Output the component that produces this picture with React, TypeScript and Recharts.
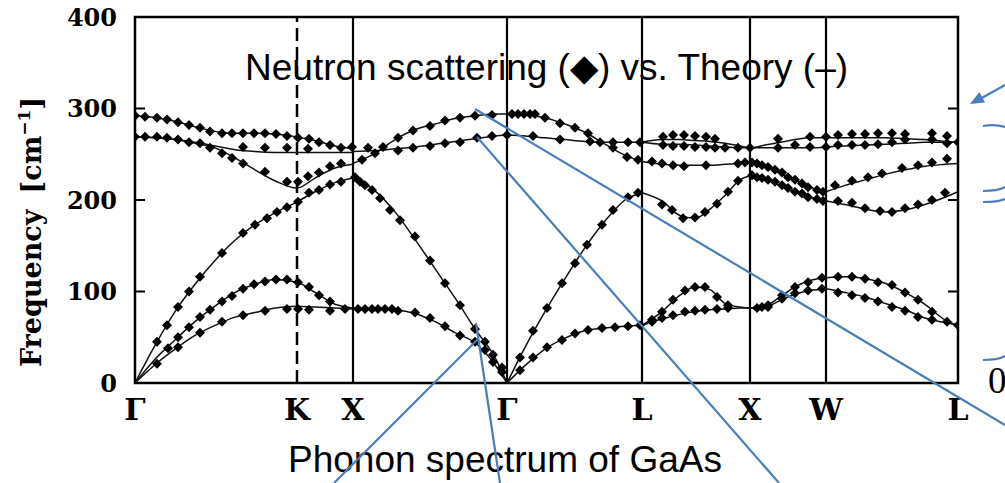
import {
  ComposedChart,
  Line,
  Scatter,
  XAxis,
  YAxis,
  ReferenceLine,
  ReferenceArea,
} from "recharts";

// High-symmetry points along the k path (arb. path units)
const symK = [0, 162, 218, 372, 507, 615, 691, 823];
const symLabels = ["Γ", "K", "X", "Γ", "L", "X", "W", "L"];
const freqTicks = [0, 100, 200, 300, 400];

// ---- theory (solid lines), cm^-1, one k grid per path piece ----
const kGK = [0, 20, 40, 60, 80, 100, 120, 140, 162, 180, 200, 218];
const gkLO = [292, 290, 286, 280, 275, 273, 273, 272, 269, 265, 259, 256];
const gkTO1 = [269, 268, 266, 263, 259, 255, 253, 252, 252, 252, 252, 252];
const gkTO2 = [269, 268, 266, 262, 257, 246, 233, 221, 213, 224, 235, 239];
const gkLA = [0, 41, 78, 108, 134, 156, 173, 186, 198, 209, 219, 224];
const gkTA1 = [0, 26, 47, 67, 84, 99, 108, 113, 110, 99, 86, 82];
const gkTA2 = [0, 20, 37, 52, 63, 72, 77, 82, 84, 83, 82, 81];

const kXG = [218, 240, 260, 280, 300, 320, 340, 360, 372];
const xgLO = [240, 251, 266, 277, 283, 289, 292, 294, 294];
const xgTO = [253, 254, 256, 258, 261, 264, 267, 270, 271];
const xgLA = [224, 210, 187, 157, 125, 93, 59, 28, 0];
const xgTA = [82, 81, 80, 76, 67, 55, 44, 20, 0];

const kGL = [372, 390, 410, 430, 450, 470, 490, 507];
const glLO = [294, 293, 290, 283, 274, 261, 249, 242];
const glTO = [271, 270, 268, 266, 264, 263, 263, 263];
const glLA = [0, 39, 78, 114, 148, 177, 200, 208];
const glTA = [0, 19, 37, 49, 57, 60, 62, 63];

const kLXW = [507, 527, 545, 560, 575, 590, 605, 615, 630, 645, 660, 675, 691];
const lxw1 = [263, 266, 266, 265, 264, 262, 259, 257, 260, 263, 266, 268, 268];
const lxw2 = [263, 261, 261, 260, 259, 258, 257, 257, 257, 257, 257, 257, 258];
const lxw3 = [242, 239, 238, 238, 238, 239, 240, 241, 237, 229, 222, 214, 209];
const lxw4 = [208, 199, 183, 180, 190, 205, 222, 226, 223, 216, 209, 203, 199];
const lxw5 = [63, 78, 96, 105, 102, 87, 83, 82, 84, 94, 105, 112, 115];
const lxw6 = [63, 70, 75, 78, 80, 81, 82, 82, 83, 90, 97, 101, 103];

const kWL = [691, 710, 730, 750, 770, 790, 810, 823];
const wl1 = [268, 268, 268, 268, 267, 266, 264, 263];
const wl2 = [258, 259, 260, 261, 262, 263, 263, 263];
const wl3 = [209, 216, 222, 228, 233, 237, 239, 240];
const wl4 = [199, 195, 190, 187, 189, 195, 203, 209];
const wl5 = [115, 116, 114, 109, 99, 86, 69, 63];
const wl6 = [103, 99, 94, 87, 80, 71, 66, 63];

// ---- neutron scattering points [k, cm^-1] ----
const expGK: [number, number][] = [
  [0, 292], [10, 291], [22, 290], [32, 288], [43, 285], [54, 282], [65, 279], [75, 275],
  [87, 273], [97, 273], [108, 273], [119, 273], [130, 273], [141, 272], [152, 270],
  [163, 268], [174, 267], [184, 263], [195, 260], [206, 257],
  [0, 269], [10, 269], [22, 269], [32, 268], [43, 266], [54, 263], [65, 262],
  [108, 258], [130, 257], [152, 257], [173, 256],
  [75, 257], [87, 251], [97, 246], [108, 240], [130, 231], [152, 220], [163, 220],
  [173, 226], [184, 230], [195, 237], [206, 240],
  [22, 45], [32, 63], [43, 83], [54, 100], [65, 116], [87, 142], [108, 164], [120, 173],
  [132, 180], [142, 187], [152, 192], [163, 198], [174, 208], [184, 211], [195, 217], [206, 220],
  [33, 38], [43, 50], [54, 61], [65, 72], [75, 80], [87, 89], [97, 95], [108, 103],
  [119, 108], [130, 111], [141, 113], [152, 113], [163, 110], [174, 105], [184, 96], [195, 89],
  [22, 21], [43, 39], [65, 55], [87, 67], [108, 74], [130, 79], [152, 81], [163, 81],
  [174, 80], [195, 79],
];

const expXG: [number, number][] = [
  [227, 244], [240, 251], [248, 258], [263, 268], [278, 276], [295, 281], [310, 287],
  [325, 290], [340, 292], [357, 293],
  [217, 258], [233, 257], [263, 254], [278, 257], [295, 259], [310, 262], [325, 263],
  [342, 268], [357, 270],
  [220, 225], [225, 220], [230, 216], [237, 211], [245, 202], [255, 189], [265, 178],
  [280, 160], [295, 134], [310, 109], [325, 85], [340, 59], [350, 45], [358, 31], [367, 17],
  [210, 81], [223, 81], [230, 81], [237, 81], [243, 81], [250, 81], [257, 81], [263, 79],
  [280, 77], [295, 71], [310, 62], [325, 52], [340, 45], [350, 36], [358, 23], [367, 12],
];

const expGL: [number, number][] = [
  [377, 294], [383, 294], [389, 294], [395, 294], [400, 294], [410, 290], [425, 284],
  [440, 279], [453, 273], [465, 263], [478, 257], [492, 247], [503, 244],
  [372, 271], [398, 270], [425, 266], [455, 264], [478, 263], [493, 263], [505, 263],
  [385, 28], [398, 57], [412, 82], [427, 109], [440, 131], [452, 151], [467, 173],
  [478, 189], [493, 203], [503, 208],
  [385, 14], [398, 28], [412, 39], [427, 47], [440, 54], [453, 58], [467, 60],
  [480, 61], [493, 62], [505, 63],
];

const expLXWL: [number, number][] = [
  [528, 269], [538, 271], [549, 271], [560, 270], [571, 269], [580, 267],
  [528, 260], [538, 259], [549, 259], [560, 258], [571, 258], [580, 257], [590, 257],
  [603, 257], [615, 257],
  [643, 267], [643, 257], [660, 260], [675, 269], [675, 258], [691, 269], [691, 258],
  [703, 271], [717, 272], [730, 272], [743, 273], [757, 273], [770, 272], [797, 273],
  [812, 270], [823, 263],
  [703, 260], [717, 260], [730, 260], [743, 261], [757, 263], [770, 266], [797, 266], [812, 262],
  [517, 242], [527, 240], [538, 238], [549, 237], [571, 238], [603, 240], [610, 241],
  [617, 241], [622, 240], [627, 238], [633, 236], [640, 233], [647, 230], [653, 225],
  [660, 222], [667, 218], [673, 214], [682, 211], [688, 209],
  [700, 216], [717, 221], [733, 225], [747, 229], [767, 235], [783, 238], [797, 241], [812, 245],
  [527, 195], [537, 189], [548, 180], [560, 181], [570, 187], [582, 196], [593, 209], [603, 221],
  [617, 227], [622, 225], [627, 224], [633, 222], [640, 220], [647, 216], [653, 213],
  [660, 209], [667, 207], [673, 203], [682, 201], [688, 199],
  [703, 199], [717, 197], [730, 191], [745, 188], [757, 187], [770, 191], [783, 195],
  [797, 200], [810, 208],
  [517, 69], [527, 78], [538, 91], [550, 101], [560, 105], [570, 105], [582, 94], [593, 85],
  [517, 67], [527, 71], [538, 74], [550, 78], [560, 79], [570, 80], [582, 81], [593, 82],
  [622, 82], [627, 83],
  [633, 85], [647, 96], [660, 105], [673, 110], [687, 115],
  [633, 83], [647, 92], [660, 98], [673, 101], [687, 103],
  [703, 116], [717, 116], [730, 114], [743, 110], [757, 107], [770, 99], [783, 91],
  [797, 78], [812, 67], [823, 63],
  [703, 99], [717, 96], [730, 93], [743, 89], [757, 83], [770, 79], [783, 72], [797, 69],
];

const pieces: { k: number[]; branches: number[][] }[] = [
  { k: kGK, branches: [gkLO, gkTO1, gkTO2, gkLA, gkTA1, gkTA2] },
  { k: kXG, branches: [xgLO, xgTO, xgLA, xgTA] },
  { k: kGL, branches: [glLO, glTO, glLA, glTA] },
  { k: kLXW, branches: [lxw1, lxw2, lxw3, lxw4, lxw5, lxw6] },
  { k: kWL, branches: [wl1, wl2, wl3, wl4, wl5, wl6] },
];

const theoryLines = pieces.flatMap((p) =>
  p.branches.map((vals) => vals.map((f, i) => ({ k: p.k[i], f })))
);

const neutronPoints = [...expGK, ...expXG, ...expGL, ...expLXWL].map(([k, f]) => ({ k, f }));

const W = 1005;
const H = 483;
const PLOT_LEFT = 135;
const PLOT_RIGHT = 958;
const SERIF = "'DejaVu Serif', serif";
const SANS = "'Liberation Sans', Arial, sans-serif";
const BLUE = "#4a7ebb";

const Diamond = (props: any) => {
  const { cx, cy } = props;
  const r = 5;
  return (
    <polygon
      points={`${cx},${cy - r} ${cx + r},${cy} ${cx},${cy + r} ${cx - r},${cy}`}
      fill="#000"
    />
  );
};

const XTick = (props: any) => {
  const { x, y, payload } = props;
  const label = symLabels[symK.indexOf(payload.value)];
  return (
    <text x={x} y={y + 37} textAnchor="middle" fontFamily={SERIF} fontWeight="bold" fontSize={30} fill="#000">
      {label}
    </text>
  );
};

const YTick = (props: any) => {
  const { y, payload } = props;
  const inner = payload.value > 0 && payload.value < 400;
  return (
    <g>
      {inner && <line x1={PLOT_LEFT} x2={PLOT_LEFT + 10} y1={y} y2={y} stroke="#000" strokeWidth={2} />}
      {inner && <line x1={PLOT_RIGHT - 10} x2={PLOT_RIGHT} y1={y} y2={y} stroke="#000" strokeWidth={2} />}
      <text x={PLOT_LEFT - 18} y={y + 8.5} textAnchor="end" fontFamily={SERIF} fontWeight="bold" fontSize={24} fill="#000">
        {payload.value}
      </text>
    </g>
  );
};

export default function App() {
  return (
    <div style={{ position: "absolute", left: 0, top: 0, width: W, height: H, background: "#fff" }}>
      <ComposedChart width={W} height={H} margin={{ top: 17, right: W - PLOT_RIGHT, bottom: 60, left: 0 }}>
        <XAxis
          type="number"
          dataKey="k"
          domain={[0, 823]}
          ticks={symK}
          tick={<XTick />}
          tickSize={0}
          tickMargin={0}
          tickLine={false}
          axisLine={false}
          height={40}
          allowDataOverflow
        />
        <YAxis
          type="number"
          domain={[0, 400]}
          ticks={freqTicks}
          tick={<YTick />}
          tickSize={0}
          tickMargin={0}
          tickLine={false}
          axisLine={false}
          width={PLOT_LEFT}
        />
        {symK.slice(1, -1).map((k, i) => (
          <ReferenceLine
            key={`sym-${i}`}
            x={k}
            stroke="#000"
            strokeWidth={i === 0 ? 2.5 : 2.2}
            strokeDasharray={i === 0 ? "13 6" : undefined}
          />
        ))}
        <ReferenceArea x1={0} x2={823} y1={0} y2={400} fill="none" stroke="#000" strokeWidth={2.5} ifOverflow="visible" />
        {theoryLines.map((data, i) => (
          <Line
            key={`th-${i}`}
            data={data}
            dataKey="f"
            type="monotone"
            stroke="#111"
            strokeWidth={1.5}
            dot={false}
            activeDot={false}
            isAnimationActive={false}
          />
        ))}
        <Scatter data={neutronPoints} dataKey="f" shape={<Diamond />} isAnimationActive={false} />
      </ComposedChart>
      <svg width={W} height={H} style={{ position: "absolute", left: 0, top: 0, pointerEvents: "none" }}>
        <text
          transform="translate(41,232) rotate(-90)"
          textAnchor="middle"
          fontFamily={SERIF}
          fontWeight="bold"
          fontSize={27}
          fill="#000"
        >
          Frequency
          <tspan dx={16}>[cm</tspan>
          <tspan dy={-11} fontSize={17}>−1</tspan>
          <tspan dy={11}>]</tspan>
        </text>
        <text x={245} y={80} fontFamily={SANS} fontSize={37} fill="#000">
          Neutron scattering (◆) vs. Theory (–)
        </text>
        <text x={288} y={472} fontFamily={SANS} fontSize={37} fill="#000">
          Phonon spectrum of GaAs
        </text>
        <text x={988} y={393} fontFamily="'Liberation Serif', serif" fontSize={37} fill="#000">
          0
        </text>
        <g stroke={BLUE} strokeWidth={2.2} fill="none">
          <line x1={475} y1={109} x2={1005} y2={425} />
          <line x1={477} y1={137} x2={779} y2={483} />
          <line x1={478} y1={339} x2={334} y2={483} />
          <line x1={476} y1={323} x2={500} y2={483} />
          <line x1={1005} y1={85} x2={980} y2={99} />
          <path d="M983,126 Q995,124 1005,127" />
          <path d="M983,191 Q998,191 1005,187" />
          <path d="M983,202 Q998,202 1005,199" />
          <path d="M983,360 Q998,360 1005,356" />
        </g>
        <polygon points="970,104 985,102.6 979.4,92" fill={BLUE} />
      </svg>
    </div>
  );
}
